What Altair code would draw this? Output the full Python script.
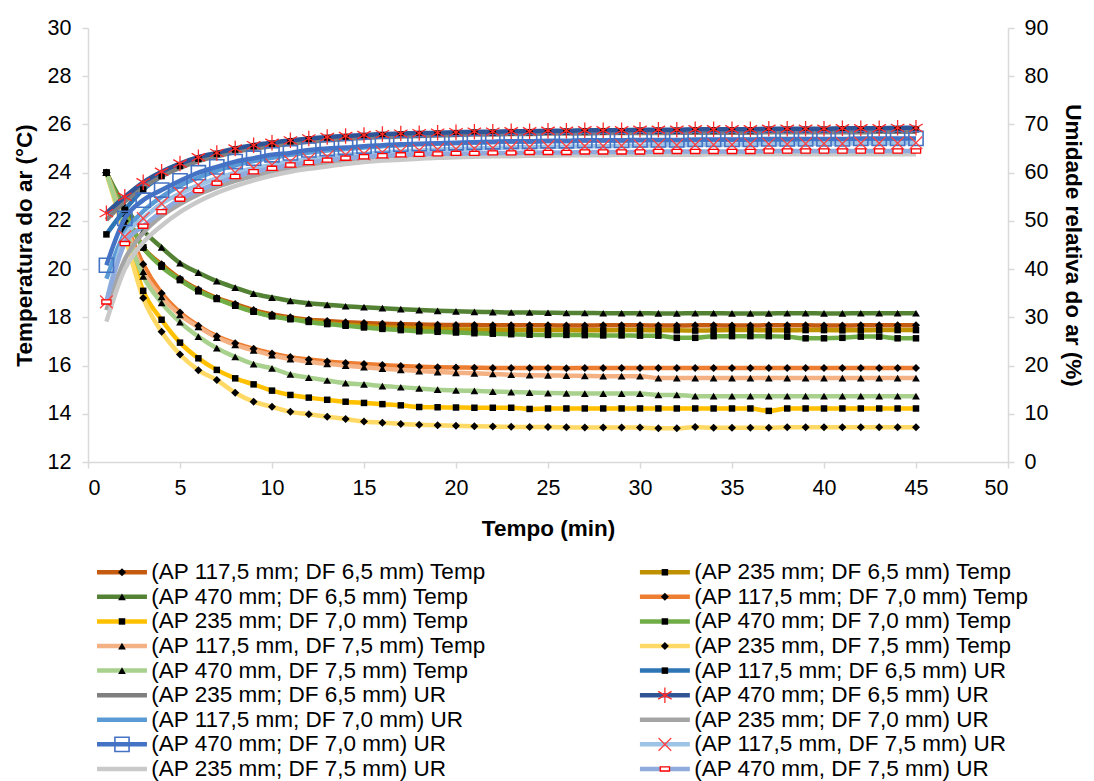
import altair as alt
import pandas as pd

minutes = list(range(1, 46))

names = [
    "(AP 117,5 mm; DF 6,5 mm) Temp",
    "(AP 235 mm; DF 6,5 mm) Temp",
    "(AP 470 mm; DF 6,5 mm) Temp",
    "(AP 117,5 mm; DF 7,0 mm) Temp",
    "(AP 235 mm; DF 7,0 mm) Temp",
    "(AP 470 mm; DF 7,0 mm) Temp",
    "(AP 117,5 mm, DF 7,5 mm) Temp",
    "(AP 235 mm, DF 7,5 mm) Temp",
    "(AP 470 mm, DF 7,5 mm) Temp",
    "(AP 117,5 mm; DF 6,5 mm) UR",
    "(AP 235 mm; DF 6,5 mm) UR",
    "(AP 470 mm; DF 6,5 mm) UR",
    "(AP 117,5 mm; DF 7,0 mm) UR",
    "(AP 235 mm; DF 7,0 mm) UR",
    "(AP 470 mm; DF 7,0 mm) UR",
    "(AP 117,5 mm, DF 7,5 mm) UR",
    "(AP 235 mm; DF 7,5 mm) UR",
    "(AP 470 mm, DF 7,5 mm) UR",
]

# Temperature (°C)
t_117_65 = [24.0, 22.4, 20.9, 20.2, 19.6, 19.15, 18.8, 18.55, 18.3, 18.12, 18.0, 17.9, 17.85, 17.8, 17.76,
            17.73, 17.71, 17.7, 17.69, 17.68, 17.68, 17.67, 17.67, 17.67, 17.67, 17.66, 17.66, 17.67, 17.67, 17.67,
            17.66, 17.66, 17.67, 17.67, 17.66, 17.66, 17.67, 17.67, 17.67, 17.66, 17.66, 17.67, 17.67, 17.67, 17.67]
t_235_65 = [24.0, 22.4, 20.9, 20.15, 19.55, 19.1, 18.78, 18.5, 18.25, 18.06, 17.95, 17.85, 17.76, 17.7, 17.65,
            17.6, 17.57, 17.55, 17.52, 17.5, 17.5, 17.48, 17.48, 17.47, 17.47, 17.47, 17.46, 17.46, 17.47, 17.47,
            17.46, 17.46, 17.45, 17.46, 17.47, 17.47, 17.46, 17.46, 17.47, 17.47, 17.46, 17.46, 17.47, 17.47, 17.47]
t_470_65 = [24.0, 22.6, 21.6, 20.9, 20.25, 19.85, 19.5, 19.23, 18.98, 18.82, 18.68, 18.58, 18.52, 18.46, 18.42,
            18.38, 18.34, 18.3, 18.27, 18.25, 18.23, 18.22, 18.2, 18.2, 18.19, 18.18, 18.18, 18.17, 18.17, 18.17,
            18.16, 18.16, 18.17, 18.17, 18.16, 18.16, 18.16, 18.17, 18.17, 18.16, 18.16, 18.17, 18.17, 18.17, 18.17]
t_117_70 = [24.0, 22.0, 20.2, 19.0, 18.2, 17.65, 17.22, 16.92, 16.7, 16.5, 16.35, 16.25, 16.17, 16.11, 16.06,
            16.02, 15.98, 15.95, 15.93, 15.92, 15.91, 15.9, 15.9, 15.9, 15.9, 15.89, 15.9, 15.9, 15.9, 15.9,
            15.9, 15.9, 15.9, 15.9, 15.9, 15.9, 15.9, 15.9, 15.9, 15.9, 15.9, 15.9, 15.9, 15.9, 15.9]
t_235_70 = [24.0, 21.6, 19.1, 17.9, 16.95, 16.3, 15.82, 15.47, 15.22, 14.96, 14.78, 14.67, 14.58, 14.5, 14.45,
            14.4, 14.35, 14.28, 14.27, 14.26, 14.25, 14.25, 14.25, 14.2, 14.22, 14.22, 14.22, 14.22, 14.22, 14.22,
            14.22, 14.22, 14.22, 14.22, 14.22, 14.22, 14.12, 14.22, 14.22, 14.22, 14.22, 14.22, 14.22, 14.22, 14.22]
t_470_70 = [24.0, 22.3, 20.9, 20.1, 19.55, 19.08, 18.76, 18.48, 18.23, 18.04, 17.92, 17.81, 17.72, 17.65, 17.58,
            17.52, 17.47, 17.42, 17.4, 17.37, 17.34, 17.32, 17.3, 17.28, 17.27, 17.27, 17.26, 17.25, 17.25, 17.24,
            17.24, 17.15, 17.15, 17.22, 17.22, 17.22, 17.22, 17.2, 17.13, 17.13, 17.15, 17.2, 17.2, 17.13, 17.13]
t_117_75 = [24.0, 21.9, 19.9, 18.85, 18.1, 17.6, 17.16, 16.86, 16.63, 16.43, 16.27, 16.16, 16.07, 16.0, 15.93,
            15.87, 15.82, 15.77, 15.73, 15.7, 15.68, 15.65, 15.62, 15.6, 15.59, 15.58, 15.57, 15.56, 15.56, 15.56,
            15.48, 15.48, 15.48, 15.48, 15.48, 15.48, 15.48, 15.48, 15.48, 15.48, 15.48, 15.48, 15.48, 15.48, 15.48]
t_235_75 = [24.0, 21.4, 18.8, 17.4, 16.46, 15.81, 15.4, 14.87, 14.5, 14.29, 14.08, 13.98, 13.88, 13.78, 13.68,
            13.63, 13.58, 13.55, 13.52, 13.5, 13.48, 13.47, 13.46, 13.45, 13.45, 13.44, 13.43, 13.43, 13.43, 13.43,
            13.4, 13.4, 13.45, 13.42, 13.42, 13.42, 13.42, 13.44, 13.44, 13.44, 13.44, 13.44, 13.44, 13.44, 13.44]
t_470_75 = [24.0, 21.7, 19.7, 18.6, 17.8, 17.2, 16.72, 16.36, 16.06, 15.88, 15.63, 15.5, 15.38, 15.27, 15.22,
            15.15, 15.1, 15.05, 15.0, 14.97, 14.95, 14.92, 14.9, 14.88, 14.86, 14.85, 14.84, 14.84, 14.84, 14.84,
            14.78, 14.78, 14.73, 14.73, 14.73, 14.73, 14.73, 14.73, 14.73, 14.73, 14.73, 14.73, 14.73, 14.73, 14.73]

# Relative humidity (%)
u_117_65 = [47.2, 52.3, 56.5, 59.3, 61.4, 62.9, 63.9, 64.8, 65.5, 66.0, 66.5, 66.9, 67.2, 67.4, 67.6,
            67.8, 67.9, 68.0, 68.1, 68.2, 68.3, 68.3, 68.4, 68.4, 68.5, 68.5, 68.6, 68.6, 68.6, 68.7,
            68.7, 68.7, 68.8, 68.8, 68.8, 68.8, 68.9, 68.9, 68.9, 68.9, 69.0, 69.0, 69.0, 69.0, 69.0]
u_235_65 = [50.2, 54.0, 57.0, 59.3, 61.0, 62.4, 63.4, 64.3, 65.0, 65.5, 66.0, 66.4, 66.7, 67.0, 67.2,
            67.4, 67.5, 67.6, 67.7, 67.8, 67.9, 67.9, 68.0, 68.0, 68.1, 68.1, 68.1, 68.2, 68.2, 68.2,
            68.2, 68.3, 68.3, 68.3, 68.3, 68.3, 68.4, 68.4, 68.4, 68.4, 68.4, 68.4, 68.5, 68.5, 68.5]
u_470_65 = [51.6, 55.0, 58.0, 60.2, 61.9, 63.2, 64.1, 65.0, 65.7, 66.2, 66.7, 67.1, 67.4, 67.6, 67.8,
            68.0, 68.1, 68.2, 68.3, 68.4, 68.5, 68.5, 68.6, 68.6, 68.7, 68.7, 68.8, 68.8, 68.8, 68.9,
            68.9, 68.9, 69.0, 69.0, 69.0, 69.0, 69.1, 69.1, 69.1, 69.1, 69.2, 69.2, 69.2, 69.3, 69.3]
u_117_70 = [38.0, 47.5, 52.0, 55.0, 57.3, 59.0, 60.4, 61.5, 62.4, 63.1, 63.7, 64.2, 64.6, 64.9, 65.2,
            65.5, 65.7, 65.9, 66.0, 66.1, 66.2, 66.3, 66.4, 66.4, 66.5, 66.5, 66.6, 66.6, 66.6, 66.7,
            66.7, 66.7, 66.7, 66.8, 66.8, 66.8, 66.8, 66.8, 66.9, 66.9, 66.9, 66.9, 66.9, 66.9, 66.9]
u_235_70 = [31.5, 42.0, 47.5, 51.0, 53.5, 55.5, 57.0, 58.3, 59.3, 60.1, 60.8, 61.3, 61.8, 62.2, 62.5,
            62.8, 63.0, 63.2, 63.4, 63.5, 63.6, 63.7, 63.8, 63.8, 63.9, 63.9, 64.0, 64.0, 64.0, 64.1,
            64.1, 64.1, 64.1, 64.2, 64.2, 64.2, 64.2, 64.2, 64.2, 64.3, 64.3, 64.3, 64.3, 64.3, 64.3]
u_470_70 = [40.8, 50.5, 54.3, 56.4, 58.3, 60.0, 61.2, 62.3, 63.0, 63.7, 64.1, 64.7, 65.0, 65.2, 65.5,
            65.7, 65.9, 66.0, 66.1, 66.2, 66.3, 66.4, 66.5, 66.5, 66.6, 66.6, 66.7, 66.7, 66.7, 66.8,
            66.8, 66.8, 66.9, 66.9, 66.9, 66.9, 67.0, 67.0, 67.0, 67.0, 67.0, 67.1, 67.1, 67.1, 67.1]
u_117_75 = [33.2, 46.7, 50.5, 53.6, 55.7, 57.4, 58.8, 60.0, 60.9, 61.6, 62.3, 62.8, 63.3, 63.7, 63.9,
            64.2, 64.4, 64.6, 64.8, 64.9, 65.0, 65.1, 65.2, 65.3, 65.4, 65.4, 65.5, 65.5, 65.6, 65.6,
            65.7, 65.7, 65.8, 65.8, 65.8, 65.9, 65.9, 65.9, 66.0, 66.0, 66.0, 66.1, 66.1, 66.1, 66.2]
u_235_75 = [29.1, 40.0, 45.5, 49.0, 51.8, 54.0, 55.8, 57.2, 58.4, 59.4, 60.2, 60.8, 61.3, 61.8, 62.2,
            62.5, 62.7, 62.9, 63.1, 63.2, 63.3, 63.4, 63.4, 63.5, 63.5, 63.6, 63.6, 63.6, 63.7, 63.7,
            63.7, 63.7, 63.7, 63.8, 63.8, 63.8, 63.8, 63.8, 63.8, 63.8, 63.8, 63.8, 63.8, 63.8, 63.8]
u_470_75 = [33.2, 45.3, 48.9, 51.9, 54.5, 56.3, 57.8, 59.2, 60.2, 60.9, 61.6, 62.1, 62.6, 63.0, 63.3,
            63.5, 63.7, 63.8, 63.9, 64.0, 64.0, 64.1, 64.1, 64.2, 64.2, 64.2, 64.3, 64.3, 64.3, 64.3,
            64.4, 64.4, 64.4, 64.4, 64.4, 64.4, 64.5, 64.5, 64.5, 64.5, 64.5, 64.5, 64.5, 64.5, 64.5]

values = [t_117_65, t_235_65, t_470_65, t_117_70, t_235_70, t_470_70, t_117_75, t_235_75, t_470_75,
          u_117_65, u_235_65, u_470_65, u_117_70, u_235_70, u_470_70, u_117_75, u_235_75, u_470_75]

# styles
colors = ["#C55A11", "#BF9000", "#548235", "#ED7D31", "#FFC000", "#70AD47", "#F4B183", "#FFD966", "#A9D18E",
          "#2E75B6", "#7F7F7F", "#2F5597", "#5B9BD5", "#A5A5A5", "#4472C4", "#9DC3E6", "#C9C9C9", "#8FAADC"]
marker_of = ["diamond", "square", "triangle", "diamond", "square", "square", "triangle", "diamond", "triangle",
             "square", None, "asterisk", None, None, "opensq", "x", None, "rect"]

ASTER = "M0,-1L0,1M-0.87,-0.5L0.87,0.5M-0.87,0.5L0.87,-0.5"
MARKERS = {
    "diamond": dict(shape="diamond", filled=True, color="black", size=64, opacity=1),
    "square": dict(shape="square", filled=True, color="black", size=42, opacity=1),
    "triangle": dict(shape="triangle-up", filled=True, color="black", size=60, opacity=1),
    "opensq": dict(shape="square", filled=False, color="#4472C4", strokeWidth=1.6, size=200, opacity=1),
    "asterisk": dict(shape=ASTER, filled=False, color="#FF2A2A", strokeWidth=1.3, size=240, opacity=1),
    "x": dict(shape="M-1,-1L1,1M-1,1L1,-1", filled=False, color="#FF4040", strokeWidth=1.3, size=160, opacity=1),
    "rect": dict(shape="M-1,-0.45L1,-0.45L1,0.45L-1,0.45Z", filled=True, fill="white", stroke="#FF0000",
                 strokeWidth=1.3, size=85, opacity=1),
}

for v in values:
    assert len(v) == len(minutes)

rows = []
for i, (n, v) in enumerate(zip(names, values)):
    for t, y in zip(minutes, v):
        rows.append({"series": n, "t": t, "value": y, "kind": "Temp" if i < 9 else "UR", "order": i})
df = pd.DataFrame(rows)

leg = pd.DataFrame({"series": names, "col": [i % 2 for i in range(18)], "row": [i // 2 for i in range(18)],
                    "order": list(range(18))})

FONT = "Liberation Sans"
color_enc = alt.Color("series:N", scale=alt.Scale(domain=names, range=colors), legend=None)

x_enc = alt.X("t:Q", scale=alt.Scale(domain=[0, 50], nice=False),
              axis=alt.Axis(values=list(range(0, 51, 5)), title="Tempo (min)", tickSize=6,
                            labelPadding=9, titlePadding=19))
y_temp = alt.Y("value:Q", scale=alt.Scale(domain=[12, 30], nice=False, zero=False),
               axis=alt.Axis(values=list(range(12, 31, 2)), orient="left", title="Temperatura do ar (°C)",
                             tickSize=6, labelPadding=11, titlePadding=11))
y_ur = alt.Y("value:Q", scale=alt.Scale(domain=[0, 90], nice=False, zero=False),
             axis=alt.Axis(values=list(range(0, 91, 10)), orient="right", title="Umidade relativa do ar (%)",
                           tickSize=6, labelPadding=10, titlePadding=13))


def marker_layers(base, subset):
    out = []
    for mk, props in MARKERS.items():
        sel = [names[i] for i in subset if marker_of[i] == mk]
        if not sel:
            continue
        out.append(base.transform_filter(alt.FieldOneOfPredicate(field="series", oneOf=sel)).mark_point(**props))
    return out


temp_base = alt.Chart(df).transform_filter(alt.datum.kind == "Temp").encode(x=x_enc, y=y_temp)
ur_base = alt.Chart(df).transform_filter(alt.datum.kind == "UR").encode(x=x_enc, y=y_ur)

temp_lines = temp_base.mark_line(strokeWidth=4.5, interpolate="monotone").encode(
    color=color_enc, detail="series:N", order="t:Q")
ur_lines = ur_base.mark_line(strokeWidth=4.5, interpolate="monotone").encode(
    color=color_enc, detail="series:N", order="t:Q")

temp_layer = alt.layer(temp_lines, *marker_layers(temp_base, range(0, 9)))
ur_layer = alt.layer(ur_lines, *marker_layers(ur_base, range(9, 18)))

main = alt.layer(temp_layer, ur_layer).resolve_scale(y="independent").properties(width=920, height=434)

# legend panel
lx = alt.Scale(domain=[-0.0166, 1.678], nice=False, zero=False)
ly = alt.Scale(domain=[-0.5, 8.45], nice=False, zero=False, reverse=True)
leg_base = alt.Chart(leg).transform_calculate(
    x0="datum.col", x1="datum.col + 0.092", xm="datum.col + 0.046", xt="datum.col + 0.1")
leg_line = leg_base.mark_rule(strokeWidth=4.5).encode(
    x=alt.X("x0:Q", scale=lx, axis=None), x2="x1:Q", y=alt.Y("row:Q", scale=ly, axis=None), color=color_enc)
leg_mark_base = leg_base.encode(x=alt.X("xm:Q", scale=lx, axis=None), y=alt.Y("row:Q", scale=ly, axis=None))
leg_text = leg_base.mark_text(align="left", baseline="middle", font=FONT, fontSize=22.5, color="black").encode(
    x=alt.X("xt:Q", scale=lx, axis=None), y=alt.Y("row:Q", scale=ly, axis=None), text="series:N")
legend_panel = alt.layer(leg_line, *marker_layers(leg_mark_base, range(18)), leg_text).properties(
    width=920, height=220)

chart = alt.vconcat(main, legend_panel, spacing=20).properties(
    padding={"left": 13, "top": 17, "right": 4, "bottom": 0}
).configure_view(stroke=None).configure_axis(
    grid=False, domainColor="#D9D9D9", tickColor="#D9D9D9", domainWidth=1.5, tickWidth=1.5,
    labelFont=FONT, labelFontSize=21.5, labelColor="black", titleFont=FONT, titleFontSize=22.5,
    titleFontWeight="bold", titleColor="black"
)

chart.save("out.html", embed_options={"renderer": "svg", "actions": False})
